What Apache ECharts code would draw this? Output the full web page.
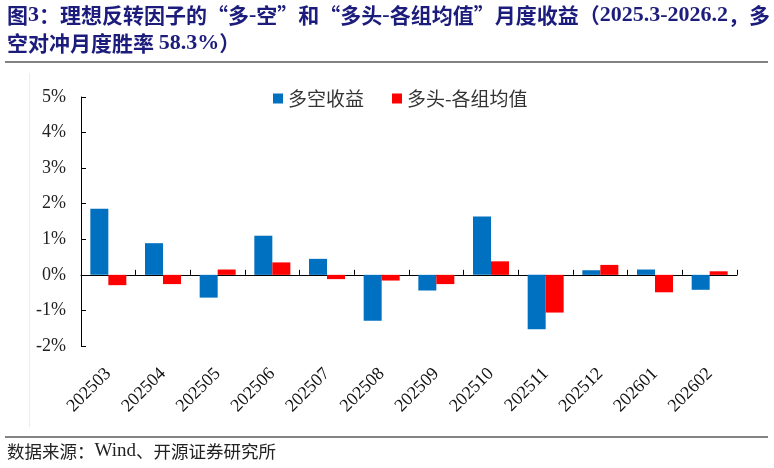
<!DOCTYPE html>
<html>
<head>
<meta charset="utf-8">
<script src="https://cdn.jsdelivr.net/npm/echarts@6/dist/echarts.min.js"></script>
<style>
html,body{margin:0;padding:0;background:#fff;}
#main{width:774px;height:468px;}
</style>
</head>
<body>
<div id="main"></div>
<script>
const categories = ['202503','202504','202505','202506','202507','202508','202509','202510','202511','202512','202601','202602'];
const longShort = [1.86, 0.89, -0.64, 1.10, 0.45, -1.29, -0.44, 1.64, -1.53, 0.13, 0.15, -0.42];
const longMinusAvg = [-0.29, -0.26, 0.15, 0.35, -0.12, -0.16, -0.26, 0.38, -1.06, 0.28, -0.49, 0.10];
const seriesNames = ['多空收益', '多头-各组均值'];
const yTicks = {min: -2, max: 5, interval: 1};
const titleLine1 = '{c|图}{a|3}{c|：理想反转因子的“多}{a|-}{c|空”和“多头}{a|-}{c|各组均值”月度收益（}{a|2025.3-2026.2}{c|，多}';
const titleLine2 = '{c|空对冲月度胜率 }{a|58.3%}{c|）}';
const sourceText = '{c|数据来源：}{a|Wind}{c|、开源证券研究所}';

const serif = 'Liberation Serif';
const cjk = 'Noto Sans CJK SC';
const titleColor = '#1c1c7c';

const chart = echarts.init(document.getElementById('main'), null, {renderer: 'canvas'});
chart.setOption({
  backgroundColor: '#fff',
  animation: false,
  color: ['#0070C0', '#FF0000'],
  grid: {left: 81, right: 37, top: 97, bottom: 122, containLabel: false},
  legend: {
    data: seriesNames,
    left: 268, top: 84,
    itemWidth: 10, itemHeight: 10, itemGap: 28,
    icon: 'rect',
    textStyle: {fontFamily: cjk, fontSize: 19, color: '#333'}
  },
  xAxis: [{
    type: 'category', data: categories,
    axisLine: {onZero: true, lineStyle: {color: '#000', width: 1}},
    axisTick: {show: true, inside: true, length: 5, lineStyle: {color: '#000'}},
    axisLabel: {show: false},
    splitLine: {show: false}
  }, {
    type: 'category', data: categories, position: 'bottom',
    axisLine: {show: false, onZero: false},
    axisTick: {show: false},
    axisLabel: {show: true, rotate: 45, margin: 25, fontFamily: serif, fontSize: 18, color: '#111'},
    splitLine: {show: false}
  }],
  yAxis: {
    type: 'value', min: yTicks.min, max: yTicks.max, interval: yTicks.interval,
    axisLine: {show: true, lineStyle: {color: '#000', width: 1}},
    axisTick: {show: true, inside: true, length: 5, lineStyle: {color: '#000'}},
    axisLabel: {formatter: '{value}%', fontFamily: serif, fontSize: 18, color: '#222', margin: 15},
    splitLine: {show: false}
  },
  series: [{
    name: seriesNames[0], type: 'bar', data: longShort, barWidth: 18, barGap: '0%',
    xAxisIndex: 0
  }, {
    name: seriesNames[1], type: 'bar', data: longMinusAvg, barWidth: 18, barGap: '0%',
    xAxisIndex: 0
  }],
  graphic: [
    {type: 'text', left: 7, top: 4, style: {text: titleLine1, rich: {
      c: {fontFamily: cjk, fontWeight: 'bold', fontSize: 21, fill: titleColor, color: titleColor},
      a: {fontFamily: serif, fontWeight: 'bold', fontSize: 22, fill: titleColor, color: titleColor}
    }}},
    {type: 'text', left: 7, top: 32, style: {text: titleLine2, rich: {
      c: {fontFamily: cjk, fontWeight: 'bold', fontSize: 21, fill: titleColor, color: titleColor},
      a: {fontFamily: serif, fontWeight: 'bold', fontSize: 22, fill: titleColor, color: titleColor}
    }}},
    {type: 'line', shape: {x1: 5, y1: 62, x2: 768, y2: 62}, style: {stroke: '#595959', lineWidth: 1.5}},
    {type: 'line', shape: {x1: 29.5, y1: 73, x2: 29.5, y2: 427}, style: {stroke: '#ececec', lineWidth: 1}},
    {type: 'line', shape: {x1: 5, y1: 437, x2: 768, y2: 437}, style: {stroke: '#595959', lineWidth: 1.5}},
    {type: 'text', left: 7, top: 442, style: {text: sourceText, rich: {
      c: {fontFamily: cjk, fontSize: 17.5, fill: '#222', color: '#222'},
      a: {fontFamily: serif, fontSize: 19, fill: '#222', color: '#222'}
    }}}
  ]
});
</script>
</body>
</html>
